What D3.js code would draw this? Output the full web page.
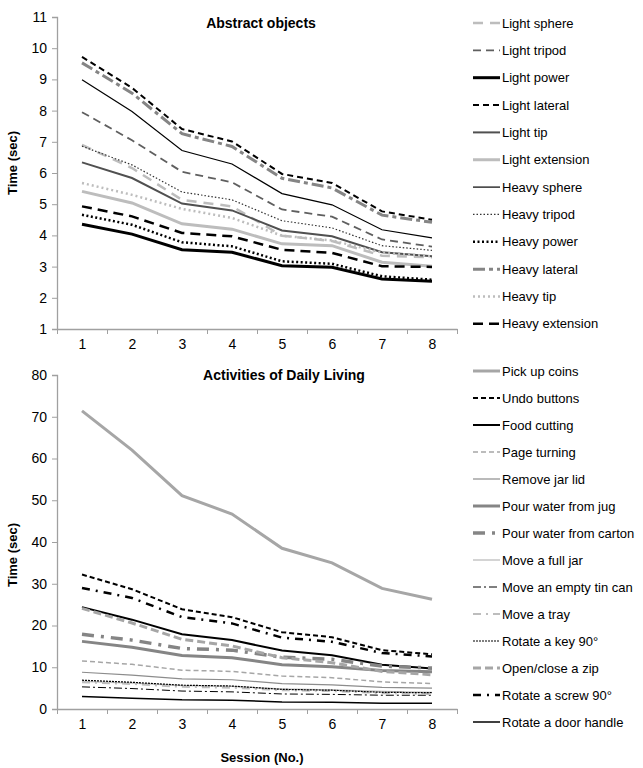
<!DOCTYPE html>
<html>
<head>
<meta charset="utf-8">
<script src="https://cdn.jsdelivr.net/npm/d3@7"></script>
<style>
  body { margin: 0; background: #fff; }
  svg { font-family: "Liberation Sans", Arial, sans-serif; }
</style>
</head>
<body>
<svg id="svg" width="643" height="768"></svg>
<script>
const sessions = [1, 2, 3, 4, 5, 6, 7, 8]

// Abstract objects (sec)
const abstractNames = ["Light sphere", "Light tripod", "Light power", "Light lateral", "Light tip", "Light extension",
    "Heavy sphere", "Heavy tripod", "Heavy power", "Heavy lateral", "Heavy tip", "Heavy extension"]
const lightSphere = [6.9, 6.16, 5.14, 4.93, 3.99, 3.82, 3.35, 3.3]
const lightTripod = [7.95, 7.05, 6.04, 5.7, 4.83, 4.6, 3.87, 3.64]
const lightPower = [4.36, 4.04, 3.54, 3.46, 3.03, 2.98, 2.6, 2.53]
const lightLateral = [9.72, 8.73, 7.41, 7.01, 5.97, 5.68, 4.77, 4.5]
const lightTip = [6.34, 5.84, 5.02, 4.8, 4.16, 3.97, 3.46, 3.33]
const lightExtension = [5.41, 5.04, 4.37, 4.2, 3.73, 3.67, 3.14, 3.01]
const heavySphere = [8.99, 7.97, 6.72, 6.29, 5.34, 4.98, 4.18, 3.92]
const heavyTripod = [6.86, 6.26, 5.39, 5.14, 4.47, 4.24, 3.67, 3.52]
const heavyPower = [4.66, 4.34, 3.78, 3.65, 3.17, 3.09, 2.69, 2.58]
const heavyLateral = [9.53, 8.56, 7.26, 6.85, 5.83, 5.52, 4.65, 4.42]
const heavyTip = [5.68, 5.3, 4.85, 4.56, 3.99, 3.84, 3.45, 3.33]
const heavyExtension = [4.93, 4.61, 4.08, 3.97, 3.54, 3.44, 3.01, 2.99]
const abstractValues = [lightSphere, lightTripod, lightPower, lightLateral, lightTip, lightExtension,
    heavySphere, heavyTripod, heavyPower, heavyLateral, heavyTip, heavyExtension]
const abstractTicks = [1, 2, 3, 4, 5, 6, 7, 8, 9, 10, 11]

// Activities of daily living (sec)
const adlNames = ["Pick up coins", "Undo buttons", "Food cutting", "Page turning", "Remove jar lid",
    "Pour water from jug", "Pour water from carton", "Move a full jar", "Move an empty tin can", "Move a tray",
    "Rotate a key 90°", "Open/close a zip", "Rotate a screw 90°", "Rotate a door handle"]
const pickUpCoins = [71.4, 62.0, 51.1, 46.7, 38.5, 35.0, 28.9, 26.3]
const undoButtons = [32.2, 28.7, 23.9, 22.0, 18.4, 17.2, 14.1, 13.1]
const foodCutting = [24.4, 21.4, 17.9, 16.5, 14.0, 12.9, 10.6, 9.7]
const pageTurning = [11.5, 10.7, 9.3, 9.0, 7.9, 7.5, 6.5, 6.1]
const removeJarLid = [8.8, 8.1, 7.2, 7.0, 6.1, 5.8, 5.2, 5.0]
const pourJug = [16.2, 14.8, 12.8, 12.3, 10.6, 10.1, 9.2, 8.9]
const pourCarton = [17.9, 16.5, 14.5, 14.1, 12.4, 11.9, 10.3, 9.8]
const moveFullJar = [6.6, 6.2, 5.6, 5.4, 4.8, 4.6, 4.2, 4.0]
const moveTinCan = [5.3, 4.9, 4.3, 4.1, 3.6, 3.5, 3.3, 3.3]
const moveTray = [6.4, 6.0, 5.3, 5.1, 4.5, 4.3, 3.8, 3.6]
const rotateKey = [6.9, 6.4, 5.7, 5.5, 4.7, 4.5, 4.0, 3.9]
const openZip = [24.1, 20.6, 16.7, 15.1, 12.3, 11.1, 9.0, 8.2]
const rotateScrew = [29.0, 26.6, 22.0, 20.5, 17.1, 16.1, 13.4, 12.6]
const doorHandle = [3.0, 2.6, 2.2, 2.1, 1.7, 1.6, 1.4, 1.4]
const adlValues = [pickUpCoins, undoButtons, foodCutting, pageTurning, removeJarLid, pourJug, pourCarton,
    moveFullJar, moveTinCan, moveTray, rotateKey, openZip, rotateScrew, doorHandle]
const adlTicks = [0, 10, 20, 30, 40, 50, 60, 70, 80]

// line styles: [colour, width, dasharray]
const abstractStyles = [
    ["#bdbdbd", 2.5, "10,7"], ["#5f5f5f", 1.8, "8,5"], ["#000", 3, null], ["#000", 2, "6,4"],
    ["#505050", 2, null], ["#bdbdbd", 3, null], ["#000", 1.2, null], ["#333", 1.2, "1.5,2"],
    ["#000", 2.5, "2,2.5"], ["#858585", 3, "12,4,4,4"], ["#bdbdbd", 2.5, "2,3"], ["#000", 2.5, "10,6"]
]
const adlStyles = [
    ["#a6a6a6", 3, null], ["#000", 2, "5,3"], ["#000", 2, null], ["#a6a6a6", 1.5, "5,3"],
    ["#8c8c8c", 1.2, null], ["#858585", 3, null], ["#858585", 3.5, "12,7,3,7"], ["#bdbdbd", 1.3, null],
    ["#000", 1, "8,3,2,3"], ["#bdbdbd", 2, "8,5,2,5"], ["#000", 1.2, "2,1"], ["#a6a6a6", 3, "8,4"],
    ["#000", 2.5, "8,6,2,6"], ["#000", 1.5, null]
]

const svg = d3.select("#svg")
const x = d3.scaleLinear().domain([0.5, 8.5]).range([57, 457])

function panel(opts) {
    const y = d3.scaleLinear().domain(opts.domain).range(opts.range)
    const g = svg.append("g")

    // y axis
    g.append("g")
        .attr("transform", "translate(57,0)")
        .call(d3.axisLeft(y).tickValues(opts.ticks).tickSize(5).tickPadding(5))
        .call(a => a.select(".domain").attr("stroke", "#a0a0a0").attr("stroke-width", 1.3))
        .call(a => a.selectAll(".tick line").attr("stroke", "#a0a0a0"))
        .call(a => a.selectAll("text").attr("font-size", 14).attr("fill", "#000"))

    // x axis: ticks between categories, labels at centres
    const yb = opts.range[0]
    g.append("g")
        .attr("transform", `translate(0,${yb})`)
        .call(d3.axisBottom(x).tickValues(d3.range(0.5, 9, 1)).tickSize(5).tickFormat("").tickSizeOuter(0))
        .call(a => a.select(".domain").attr("stroke", "#a0a0a0").attr("stroke-width", 1.3))
        .call(a => a.selectAll(".tick line").attr("stroke", "#a0a0a0"))
    g.append("g")
        .attr("transform", `translate(0,${yb})`)
        .call(d3.axisBottom(x).tickValues(sessions).tickSize(0).tickPadding(10))
        .call(a => a.select(".domain").remove())
        .call(a => a.selectAll("text").attr("font-size", 14).attr("fill", "#000"))

    const line = d3.line().x((d, i) => x(sessions[i])).y(d => y(d))
    opts.values.forEach((vals, k) => {
        const s = opts.styles[k]
        g.append("path")
            .datum(vals)
            .attr("d", line)
            .attr("fill", "none")
            .attr("stroke", s[0])
            .attr("stroke-width", s[1])
            .attr("stroke-dasharray", s[2])
    })

    g.append("text")
        .attr("x", opts.titleX).attr("y", opts.titleY)
        .attr("text-anchor", "middle")
        .attr("font-size", 14).attr("font-weight", "bold")
        .text(opts.title)

    g.append("text")
        .attr("transform", `translate(17,${opts.labelY}) rotate(-90)`)
        .attr("text-anchor", "middle")
        .attr("font-size", 13).attr("font-weight", "bold")
        .text("Time (sec)")

    // legend
    const lg = g.selectAll(".leg").data(opts.names).enter().append("g")
        .attr("transform", (d, i) => `translate(473,${opts.legY + i * opts.legStep})`)
    lg.append("line")
        .attr("x1", 0).attr("x2", 27)
        .attr("stroke", (d, i) => opts.styles[i][0])
        .attr("stroke-width", (d, i) => opts.styles[i][1])
        .attr("stroke-dasharray", (d, i) => opts.styles[i][2])
    lg.append("text")
        .attr("x", 29).attr("dy", "0.35em")
        .attr("font-size", 13)
        .text(d => d)
}

panel({
    domain: [1, 11], range: [329, 17], ticks: abstractTicks,
    values: abstractValues, styles: abstractStyles, names: abstractNames,
    title: "Abstract objects", titleX: 261, titleY: 28, labelY: 163,
    legY: 23, legStep: 27.35
})

panel({
    domain: [0, 80], range: [709, 375], ticks: adlTicks,
    values: adlValues, styles: adlStyles, names: adlNames,
    title: "Activities of Daily Living", titleX: 284, titleY: 380, labelY: 555,
    legY: 371, legStep: 27
})

svg.append("text")
    .attr("x", 262).attr("y", 762)
    .attr("text-anchor", "middle")
    .attr("font-size", 13).attr("font-weight", "bold")
    .text("Session (No.)")
</script>
</body>
</html>
